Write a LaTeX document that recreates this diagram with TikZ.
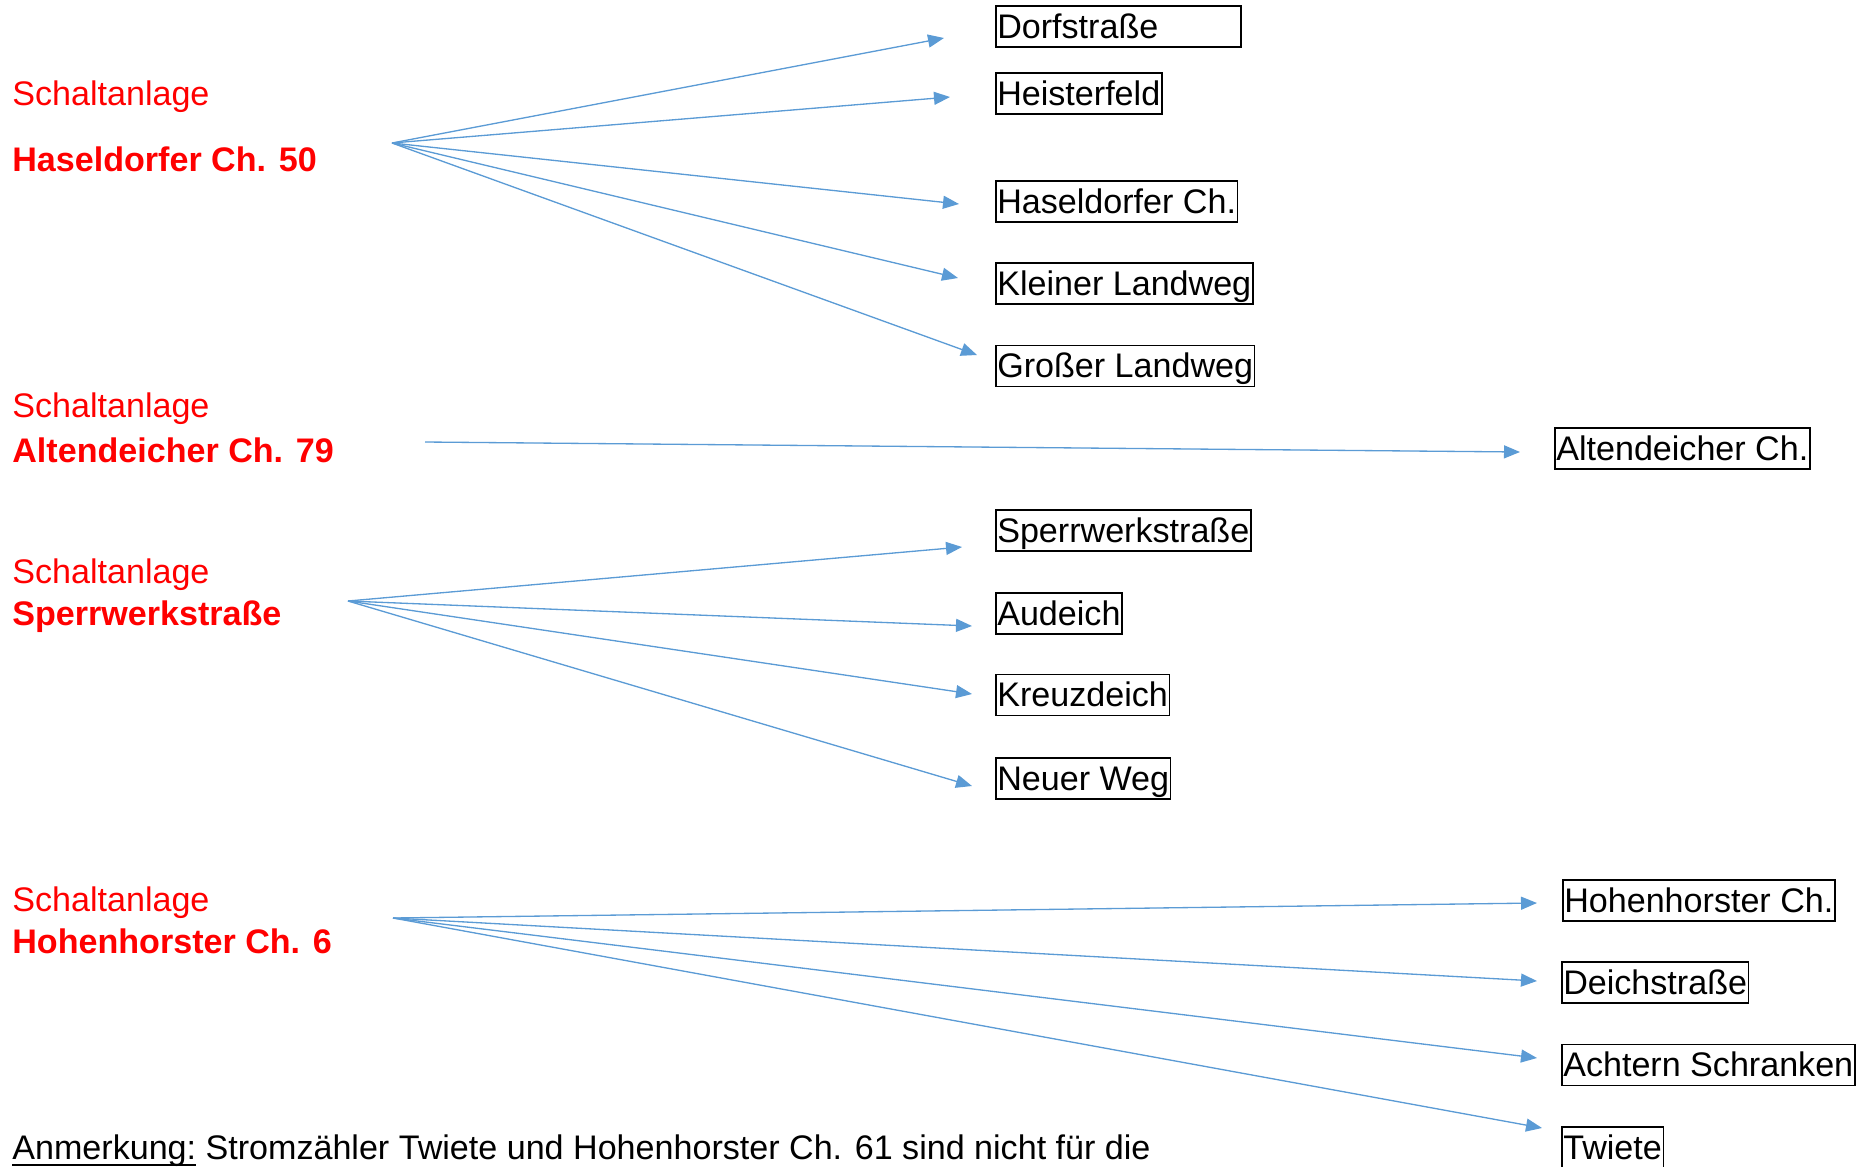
\documentclass[tikz,border=0pt]{standalone}
\usepackage{fontspec}
\setmainfont{Liberation Sans}
\usepackage{tikz}
\usetikzlibrary{positioning}
\usetikzlibrary{arrows.meta}
\definecolor{feed blue}{HTML}{5B9BD5}
% Underline sitting close under the text, as in the office original
\newcommand{\remarkul}[1]{\setbox0\hbox{#1}\rlap{\rule[-1.3mm]{\wd0}{0.4mm}}\box0\relax}
\tikzset{
    % Filled triangle tips, as the office drawing has them
    >={Triangle[length=3.2mm, width=2.6mm]},
%
    % Common text size for everything in the plan
    plan text/.style={font=\fontsize{19.4}{23}\selectfont, inner sep=0},
%
    % Red heading of a switchgear station
    station title/.style={plan text, text=red, anchor=base west},
    station name/.style={station title, font=\fontsize{19.4}{23}\selectfont\bfseries},
%
    % Framed name of a street fed by a station
    street box/.style={
        plan text, draw, line width=0.9pt, anchor=west,
        inner xsep=0.3mm, text height=5mm, text depth=0.4mm,
        minimum height=8.2mm},
%
    % Blue feeder arrow
    feed/.style={->, draw=feed blue, fill=feed blue, line width=0.75pt}}

\begin{document}
\begin{tikzpicture}[x=0.2mm, y=-0.2mm]

\clip (0,0) rectangle (1867,1166);

% Haseldorfer Ch. 50 with its five streets
\path
    node[station title] (hasel title) at (12,105) {Schaltanlage}
    node[station name] (hasel name) at (12,171) {Haseldorfer Ch. 50}
    coordinate (hasel src) at (392,143)

    node[street box, text width=48.4mm, align=left] (dorfstrasse) at (995,26.5) {Dorfstraße}
    node[street box] (heisterfeld) at (995,93.5) {Heisterfeld}
    node[street box] (haseldorfer) at (995,201.5) {Haseldorfer Ch.}
    node[street box] (kleiner landweg) at (995,283.5) {Kleiner Landweg}
    node[street box] (grosser landweg) at (995,366) {Großer Landweg}

    coordinate (dorfstrasse in) at (944,38)
    coordinate (heisterfeld in) at (950,97)
    coordinate (haseldorfer in) at (959,204)
    coordinate (kleiner landweg in) at (958,278)
    coordinate (grosser landweg in) at (977,355);

\draw[feed] (hasel src) -- (dorfstrasse in);
\draw[feed] (hasel src) -- (heisterfeld in);
\draw[feed] (hasel src) -- (haseldorfer in);
\draw[feed] (hasel src) -- (kleiner landweg in);
\draw[feed] (hasel src) -- (grosser landweg in);

% Altendeicher Ch. 79, a single street
\path
    node[station title] (alten title) at (12,417) {Schaltanlage}
    node[station name] (alten name) at (12,462) {Altendeicher Ch. 79}
    coordinate (alten src) at (425,442)

    node[street box] (altendeicher) at (1554,448.5) {Altendeicher Ch.}
    coordinate (altendeicher in) at (1520,452);

\draw[feed] (alten src) -- (altendeicher in);

% Sperrwerkstraße with four streets
\path
    node[station title] (sperr title) at (12,583) {Schaltanlage}
    node[station name] (sperr name) at (12,625) {Sperrwerkstraße}
    coordinate (sperr src) at (348,601)

    node[street box] (sperrwerkstrasse) at (995,530.5) {Sperrwerkstraße}
    node[street box] (audeich) at (995,613.5) {Audeich}
    node[street box] (kreuzdeich) at (995,695) {Kreuzdeich}
    node[street box] (neuer weg) at (995,778.5) {Neuer Weg}

    coordinate (sperrwerkstrasse in) at (962,547)
    coordinate (audeich in) at (972,626)
    coordinate (kreuzdeich in) at (972,694)
    coordinate (neuer weg in) at (972,786);

\draw[feed] (sperr src) -- (sperrwerkstrasse in);
\draw[feed] (sperr src) -- (audeich in);
\draw[feed] (sperr src) -- (kreuzdeich in);
\draw[feed] (sperr src) -- (neuer weg in);

% Hohenhorster Ch. 6 with four streets
\path
    node[station title] (hohen title) at (12,911) {Schaltanlage}
    node[station name] (hohen name) at (12,953) {Hohenhorster Ch. 6}
    coordinate (hohen src) at (393,918)

    node[street box] (hohenhorster) at (1562,900.5) {Hohenhorster Ch.}
    node[street box] (deichstrasse) at (1561,982.5) {Deichstraße}
    node[street box] (achtern schranken) at (1561,1065) {Achtern Schranken}
    node[street box] (twiete) at (1561,1147.5) {Twiete}

    coordinate (hohenhorster in) at (1537,903)
    coordinate (deichstrasse in) at (1537,981)
    coordinate (achtern schranken in) at (1537,1058)
    coordinate (twiete in) at (1542,1128);

\draw[feed] (hohen src) -- (hohenhorster in);
\draw[feed] (hohen src) -- (deichstrasse in);
\draw[feed] (hohen src) -- (achtern schranken in);
\draw[feed] (hohen src) -- (twiete in);

% Remark at the foot of the page
\node[plan text, anchor=base west] (remark) at (12,1159)
    {\remarkul{Anmerkung:} Stromzähler Twiete und Hohenhorster Ch. 61 sind nicht für die};

\end{tikzpicture}
\end{document}
